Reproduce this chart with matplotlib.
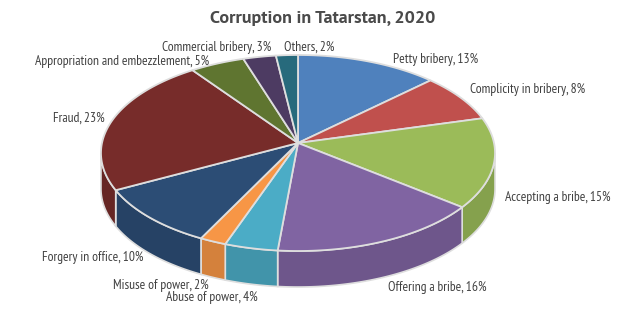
import numpy as np
import matplotlib
matplotlib.use("Agg")
import matplotlib.pyplot as plt
from matplotlib.patches import Polygon
from matplotlib.colors import to_rgb

# data
categories = ["Petty bribery", "Complicity in bribery", "Accepting a bribe",
              "Offering a bribe", "Abuse of power", "Misuse of power",
              "Forgery in office", "Fraud", "Appropriation and embezzlement",
              "Commercial bribery", "Others"]
shares = [13, 8, 15, 16, 4, 2, 10, 23, 5, 3, 2]
colors = ["#4F81BD", "#C0504D", "#9BBB59", "#8064A2", "#4BACC6", "#F79646",
          "#2C4D75", "#772C2A", "#5F7530", "#4D3B62", "#276A7C"]

# label placement (pixels, x, y, alignment)
label_pos = [(393, 60, "left"), (470, 90, "left"), (505, 198, "left"),
             (388, 288, "left"), (258, 298, "right"), (209, 286, "right"),
             (143, 258, "right"), (105, 118, "right"), (209, 61, "right"),
             (271, 47, "right"), (284, 47, "left")]

# pie geometry in pixels
CX, CY = 298, 143
RX, RY = 196, 97
PERSP = 0.102
DEPTH = 36
EDGE = "#dedede"

LABEL_FONT = ["PT Sans Narrow", "Liberation Sans", "DejaVu Sans"]
TITLE_FONT = ["PT Sans", "Liberation Sans", "DejaVu Sans"]


def project(theta, z=0.0):
    u = np.sin(theta)
    v = -np.cos(theta)
    s = 1.0 / (1.0 - PERSP * v)
    return CX + RX * u * s, CY + RY * v * s + z


def arc(a, b, z=0.0):
    n = max(3, int(np.degrees(b - a)))
    t = np.linspace(a, b, n)
    x, y = project(t, z)
    return np.column_stack([x, y])


def darker(c, f=0.86):
    r, g, b = to_rgb(c)
    return (r * f, g * f, b * f)


fig = plt.figure(figsize=(6.2, 3.24), dpi=100)
ax = fig.add_axes([0, 0, 1, 1])
ax.set_xlim(0, 620)
ax.set_ylim(324, 0)
ax.axis("off")

total = sum(shares)
bounds = np.concatenate([[0], np.cumsum(shares)]) / total * 2 * np.pi
vis_a = np.arccos(-PERSP)
vis_b = 2 * np.pi - vis_a

# side walls
for i in range(len(shares)):
    a, b = max(bounds[i], vis_a), min(bounds[i + 1], vis_b)
    if b <= a:
        continue
    top = arc(a, b)
    bot = arc(a, b, DEPTH)[::-1]
    ax.add_patch(Polygon(np.vstack([top, bot]), closed=True,
                         facecolor=darker(colors[i]), edgecolor=EDGE, lw=1.2))

# top face
for i in range(len(shares)):
    pts = np.vstack([[CX, CY], arc(bounds[i], bounds[i + 1])])
    ax.add_patch(Polygon(pts, closed=True, facecolor=colors[i],
                         edgecolor=EDGE, lw=1.3, joinstyle="round"))

# labels
for name, val, (lx, ly, ha) in zip(categories, shares, label_pos):
    ax.text(lx, ly, f"{name}, {val}%", ha=ha, va="center", fontsize=9.7,
            color="#404040", family=LABEL_FONT)

ax.text(323, 18, "Corruption in Tatarstan, 2020", ha="center", va="center",
        fontsize=13, fontweight="bold", color="#4a4a4a", family=TITLE_FONT)

fig.savefig("out.png", dpi=100)
